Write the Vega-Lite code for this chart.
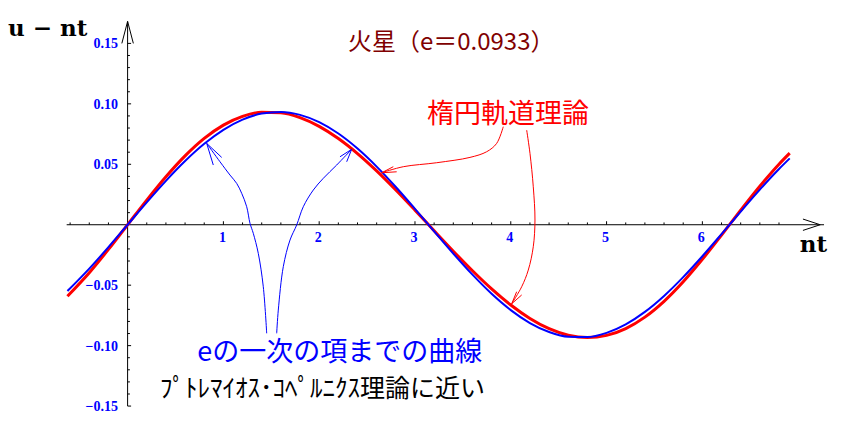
{
  "$schema": "https://vega.github.io/schema/vega-lite/v6.json",
  "width": 845,
  "height": 423,
  "autosize": {"type": "fit", "contains": "padding"},
  "padding": 0,
  "background": "white",
  "config": {"view": {"stroke": null}},
  "datasets": {
    "curve": [
      {"nt": -0.628, "u": -0.05918, "s": "ellipse"}, {"nt": -0.4, "u": -0.0397, "s": "ellipse"}, {"nt": -0.2, "u": -0.02038, "s": "ellipse"}, {"nt": 0, "u": 0, "s": "ellipse"},
      {"nt": 0.2, "u": 0.02038, "s": "ellipse"}, {"nt": 0.4, "u": 0.0397, "s": "ellipse"}, {"nt": 0.6, "u": 0.05698, "s": "ellipse"}, {"nt": 0.8, "u": 0.07141, "s": "ellipse"},
      {"nt": 1.0, "u": 0.08242, "s": "ellipse"}, {"nt": 1.2, "u": 0.08967, "s": "ellipse"}, {"nt": 1.4, "u": 0.09304, "s": "ellipse"}, {"nt": 1.6, "u": 0.0926, "s": "ellipse"},
      {"nt": 1.8, "u": 0.0886, "s": "ellipse"}, {"nt": 2.0, "u": 0.08137, "s": "ellipse"}, {"nt": 2.2, "u": 0.0713, "s": "ellipse"}, {"nt": 2.4, "u": 0.05886, "s": "ellipse"},
      {"nt": 2.6, "u": 0.0445, "s": "ellipse"}, {"nt": 2.8, "u": 0.02873, "s": "ellipse"}, {"nt": 3.0, "u": 0.01206, "s": "ellipse"}, {"nt": 3.2, "u": -0.00499, "s": "ellipse"},
      {"nt": 3.4, "u": -0.02188, "s": "ellipse"}, {"nt": 3.6, "u": -0.03809, "s": "ellipse"}, {"nt": 3.8, "u": -0.05309, "s": "ellipse"}, {"nt": 4.0, "u": -0.06639, "s": "ellipse"},
      {"nt": 4.2, "u": -0.0775, "s": "ellipse"}, {"nt": 4.4, "u": -0.08596, "s": "ellipse"}, {"nt": 4.6, "u": -0.09135, "s": "ellipse"}, {"nt": 4.8, "u": -0.09331, "s": "ellipse"},
      {"nt": 5.0, "u": -0.09154, "s": "ellipse"}, {"nt": 5.2, "u": -0.08591, "s": "ellipse"}, {"nt": 5.4, "u": -0.07643, "s": "ellipse"}, {"nt": 5.6, "u": -0.06336, "s": "ellipse"},
      {"nt": 5.8, "u": -0.04718, "s": "ellipse"}, {"nt": 6.0, "u": -0.02861, "s": "ellipse"}, {"nt": 6.2, "u": -0.00854, "s": "ellipse"}, {"nt": 6.4, "u": 0.01197, "s": "ellipse"},
      {"nt": 6.6, "u": 0.03186, "s": "ellipse"}, {"nt": 6.8, "u": 0.05009, "s": "ellipse"}, {"nt": 6.912, "u": 0.05924, "s": "ellipse"},
      {"nt": -0.628, "u": -0.05487, "s": "first"}, {"nt": -0.4, "u": -0.03633, "s": "first"}, {"nt": -0.2, "u": -0.01854, "s": "first"}, {"nt": 0, "u": 0, "s": "first"},
      {"nt": 0.2, "u": 0.01854, "s": "first"}, {"nt": 0.4, "u": 0.03633, "s": "first"}, {"nt": 0.6, "u": 0.05268, "s": "first"}, {"nt": 0.8, "u": 0.06693, "s": "first"},
      {"nt": 1.0, "u": 0.07851, "s": "first"}, {"nt": 1.2, "u": 0.08696, "s": "first"}, {"nt": 1.4, "u": 0.09194, "s": "first"}, {"nt": 1.6, "u": 0.09326, "s": "first"},
      {"nt": 1.8, "u": 0.09086, "s": "first"}, {"nt": 2.0, "u": 0.08484, "s": "first"}, {"nt": 2.2, "u": 0.07543, "s": "first"}, {"nt": 2.4, "u": 0.06302, "s": "first"},
      {"nt": 2.6, "u": 0.0481, "s": "first"}, {"nt": 2.8, "u": 0.03125, "s": "first"}, {"nt": 3.0, "u": 0.01317, "s": "first"}, {"nt": 3.2, "u": -0.00545, "s": "first"},
      {"nt": 3.4, "u": -0.02384, "s": "first"}, {"nt": 3.6, "u": -0.04129, "s": "first"}, {"nt": 3.8, "u": -0.05709, "s": "first"}, {"nt": 4.0, "u": -0.07061, "s": "first"},
      {"nt": 4.2, "u": -0.08132, "s": "first"}, {"nt": 4.4, "u": -0.08878, "s": "first"}, {"nt": 4.6, "u": -0.09271, "s": "first"}, {"nt": 4.8, "u": -0.09294, "s": "first"},
      {"nt": 5.0, "u": -0.08947, "s": "first"}, {"nt": 5.2, "u": -0.08243, "s": "first"}, {"nt": 5.4, "u": -0.0721, "s": "first"}, {"nt": 5.6, "u": -0.0589, "s": "first"},
      {"nt": 5.8, "u": -0.04335, "s": "first"}, {"nt": 6.0, "u": -0.02607, "s": "first"}, {"nt": 6.2, "u": -0.00775, "s": "first"}, {"nt": 6.4, "u": 0.01087, "s": "first"},
      {"nt": 6.6, "u": 0.02907, "s": "first"}, {"nt": 6.8, "u": 0.0461, "s": "first"}, {"nt": 6.912, "u": 0.05487, "s": "first"}
    ],
    "xticks": [
      {"v": -0.6, "major": false}, {"v": -0.4, "major": false}, {"v": -0.2, "major": false},
      {"v": 0.2, "major": false}, {"v": 0.4, "major": false}, {"v": 0.6, "major": false}, {"v": 0.8, "major": false}, {"v": 1, "major": true, "label": "1"},
      {"v": 1.2, "major": false}, {"v": 1.4, "major": false}, {"v": 1.6, "major": false}, {"v": 1.8, "major": false}, {"v": 2, "major": true, "label": "2"},
      {"v": 2.2, "major": false}, {"v": 2.4, "major": false}, {"v": 2.6, "major": false}, {"v": 2.8, "major": false}, {"v": 3, "major": true, "label": "3"},
      {"v": 3.2, "major": false}, {"v": 3.4, "major": false}, {"v": 3.6, "major": false}, {"v": 3.8, "major": false}, {"v": 4, "major": true, "label": "4"},
      {"v": 4.2, "major": false}, {"v": 4.4, "major": false}, {"v": 4.6, "major": false}, {"v": 4.8, "major": false}, {"v": 5, "major": true, "label": "5"},
      {"v": 5.2, "major": false}, {"v": 5.4, "major": false}, {"v": 5.6, "major": false}, {"v": 5.8, "major": false}, {"v": 6, "major": true, "label": "6"},
      {"v": 6.2, "major": false}, {"v": 6.4, "major": false}, {"v": 6.6, "major": false}, {"v": 6.8, "major": false}
    ],
    "yticks": [
      {"v": -0.15, "major": true, "label": "−0.15"}, {"v": -0.14, "major": false}, {"v": -0.13, "major": false}, {"v": -0.12, "major": false}, {"v": -0.11, "major": false},
      {"v": -0.10, "major": true, "label": "−0.10"}, {"v": -0.09, "major": false}, {"v": -0.08, "major": false}, {"v": -0.07, "major": false}, {"v": -0.06, "major": false},
      {"v": -0.05, "major": true, "label": "−0.05"}, {"v": -0.04, "major": false}, {"v": -0.03, "major": false}, {"v": -0.02, "major": false}, {"v": -0.01, "major": false},
      {"v": 0.01, "major": false}, {"v": 0.02, "major": false}, {"v": 0.03, "major": false}, {"v": 0.04, "major": false},
      {"v": 0.05, "major": true, "label": "0.05"}, {"v": 0.06, "major": false}, {"v": 0.07, "major": false}, {"v": 0.08, "major": false}, {"v": 0.09, "major": false},
      {"v": 0.10, "major": true, "label": "0.10"}, {"v": 0.11, "major": false}, {"v": 0.12, "major": false}, {"v": 0.13, "major": false}, {"v": 0.14, "major": false},
      {"v": 0.15, "major": true, "label": "0.15"}
    ],
    "segs": [
      {"k": "axis", "x": -0.636, "y": 0, "x2": 7.27, "y2": 0},
      {"k": "axis", "x": 0, "y": -0.15, "x2": 0, "y2": 0.1682},
      {"k": "axis", "x": 0, "y": 0.1682, "x2": -0.06, "y2": 0.150},
      {"k": "axis", "x": 0, "y": 0.1682, "x2": 0.06, "y2": 0.150},
      {"k": "axis", "x": 7.23, "y": 0, "x2": 7.05, "y2": 0.0047},
      {"k": "axis", "x": 7.23, "y": 0, "x2": 7.05, "y2": -0.0047},
      {"k": "blue", "x": 0.8257, "y": 0.0673, "x2": 0.8946, "y2": 0.0494},
      {"k": "blue", "x": 0.8257, "y": 0.0673, "x2": 0.9823, "y2": 0.0557},
      {"k": "blue", "x": 2.3392, "y": 0.0624, "x2": 2.2871, "y2": 0.0521},
      {"k": "blue", "x": 2.3392, "y": 0.0624, "x2": 2.2171, "y2": 0.0562},
      {"k": "red", "x": 2.6524, "y": 0.0430, "x2": 2.7735, "y2": 0.0480},
      {"k": "red", "x": 2.6524, "y": 0.0430, "x2": 2.8090, "y2": 0.0438},
      {"k": "red", "x": 4.0094, "y": -0.0654, "x2": 4.0616, "y2": -0.0554},
      {"k": "red", "x": 4.0094, "y": -0.0654, "x2": 4.1138, "y2": -0.0581}
    ],
    "leaders": [
      {"id": "b1", "c": "blue", "i": 0, "x": 1.452, "y": -0.0898}, {"id": "b1", "c": "blue", "i": 1, "x": 1.4165, "y": -0.0513},
      {"id": "b1", "c": "blue", "i": 2, "x": 1.3643, "y": -0.0237}, {"id": "b1", "c": "blue", "i": 3, "x": 1.3121, "y": -0.0071},
      {"id": "b1", "c": "blue", "i": 4, "x": 1.2777, "y": 0.0012}, {"id": "b1", "c": "blue", "i": 5, "x": 1.2432, "y": 0.0149},
      {"id": "b1", "c": "blue", "i": 6, "x": 1.191, "y": 0.026}, {"id": "b1", "c": "blue", "i": 7, "x": 1.1388, "y": 0.0342},
      {"id": "b1", "c": "blue", "i": 8, "x": 1.0689, "y": 0.0411}, {"id": "b1", "c": "blue", "i": 9, "x": 0.9645, "y": 0.0521},
      {"id": "b1", "c": "blue", "i": 10, "x": 0.8257, "y": 0.0673},
      {"id": "b2", "c": "blue", "i": 0, "x": 1.5564, "y": -0.0898}, {"id": "b2", "c": "blue", "i": 1, "x": 1.5731, "y": -0.0706},
      {"id": "b2", "c": "blue", "i": 2, "x": 1.6253, "y": -0.0347}, {"id": "b2", "c": "blue", "i": 3, "x": 1.6952, "y": -0.0127},
      {"id": "b2", "c": "blue", "i": 4, "x": 1.7651, "y": -0.0002}, {"id": "b2", "c": "blue", "i": 5, "x": 1.834, "y": 0.0149},
      {"id": "b2", "c": "blue", "i": 6, "x": 1.9384, "y": 0.0287}, {"id": "b2", "c": "blue", "i": 7, "x": 2.0428, "y": 0.0384},
      {"id": "b2", "c": "blue", "i": 8, "x": 2.1827, "y": 0.0494}, {"id": "b2", "c": "blue", "i": 9, "x": 2.3392, "y": 0.0624},
      {"id": "r1", "c": "red", "i": 0, "x": 3.9217, "y": 0.0811}, {"id": "r1", "c": "red", "i": 1, "x": 3.8528, "y": 0.0673},
      {"id": "r1", "c": "red", "i": 2, "x": 3.7484, "y": 0.0604}, {"id": "r1", "c": "red", "i": 3, "x": 3.5741, "y": 0.0557},
      {"id": "r1", "c": "red", "i": 4, "x": 3.2265, "y": 0.0513}, {"id": "r1", "c": "red", "i": 5, "x": 2.8779, "y": 0.048},
      {"id": "r1", "c": "red", "i": 6, "x": 2.6524, "y": 0.043},
      {"id": "r2", "c": "red", "i": 0, "x": 4.166, "y": 0.0783}, {"id": "r2", "c": "red", "i": 1, "x": 4.2004, "y": 0.0591},
      {"id": "r2", "c": "red", "i": 2, "x": 4.2349, "y": 0.0314}, {"id": "r2", "c": "red", "i": 3, "x": 4.2526, "y": 0.0039},
      {"id": "r2", "c": "red", "i": 4, "x": 4.2349, "y": -0.0182}, {"id": "r2", "c": "red", "i": 5, "x": 4.1827, "y": -0.0375},
      {"id": "r2", "c": "red", "i": 6, "x": 4.1138, "y": -0.0513}, {"id": "r2", "c": "red", "i": 7, "x": 4.0094, "y": -0.0654}
    ],
    "texts": [
      {"id": "title", "t": "火星（e＝0.0933）", "x": 2.30, "y": 0.1503},
      {"id": "ellipse", "t": "楕円軌道理論", "x": 3.125, "y": 0.0911},
      {"id": "first", "t": "eの一次の項までの曲線", "x": 0.7265, "y": -0.1061},
      {"id": "note", "t": "ﾌﾟﾄﾚﾏｲｵｽ･ｺﾍﾟﾙﾆｸｽ理論に近い", "x": 0.339, "y": -0.1359},
      {"id": "ytitle", "t": "u − nt", "x": -1.249, "y": 0.1561},
      {"id": "xtitle", "t": "nt", "x": 7.16, "y": -0.0226}
    ]
  },
  "encoding": {
    "x": {"type": "quantitative", "scale": {"domain": [-1.332, 7.489], "nice": false, "zero": false}, "axis": null},
    "y": {"type": "quantitative", "scale": {"domain": [-0.164, 0.1859], "nice": false, "zero": false}, "axis": null}
  },
  "layer": [
    {
      "data": {"name": "segs"},
      "transform": [{"filter": "datum.k === 'axis'"}],
      "mark": {"type": "rule", "color": "black", "strokeWidth": 1},
      "encoding": {"x": {"field": "x"}, "y": {"field": "y"}, "x2": {"field": "x2"}, "y2": {"field": "y2"}}
    },
    {
      "data": {"name": "xticks"},
      "transform": [{"filter": "datum.major"}],
      "mark": {"type": "rule", "color": "black", "strokeWidth": 1, "y2Offset": -3.5},
      "encoding": {"x": {"field": "v"}, "y": {"datum": 0}, "y2": {"datum": 0}}
    },
    {
      "data": {"name": "xticks"},
      "transform": [{"filter": "!datum.major"}],
      "mark": {"type": "rule", "color": "black", "strokeWidth": 1, "y2Offset": -2.3},
      "encoding": {"x": {"field": "v"}, "y": {"datum": 0}, "y2": {"datum": 0}}
    },
    {
      "data": {"name": "yticks"},
      "transform": [{"filter": "datum.major"}],
      "mark": {"type": "rule", "color": "black", "strokeWidth": 1, "x2Offset": 3.5},
      "encoding": {"y": {"field": "v"}, "x": {"datum": 0}, "x2": {"datum": 0}}
    },
    {
      "data": {"name": "yticks"},
      "transform": [{"filter": "!datum.major"}],
      "mark": {"type": "rule", "color": "black", "strokeWidth": 1, "x2Offset": 2.3},
      "encoding": {"y": {"field": "v"}, "x": {"datum": 0}, "x2": {"datum": 0}}
    },
    {
      "data": {"name": "xticks"},
      "transform": [{"filter": "datum.major"}],
      "mark": {"type": "text", "color": "#0000FF", "font": "Liberation Serif", "fontWeight": "bold", "fontSize": 14, "align": "center", "baseline": "middle", "dy": 13.5, "dx": -1},
      "encoding": {"x": {"field": "v"}, "y": {"datum": 0}, "text": {"field": "label"}}
    },
    {
      "data": {"name": "yticks"},
      "transform": [{"filter": "datum.major"}],
      "mark": {"type": "text", "color": "#0000FF", "font": "Liberation Serif", "fontWeight": "bold", "fontSize": 14, "align": "right", "baseline": "middle", "dx": -9.5, "dy": 1},
      "encoding": {"y": {"field": "v"}, "x": {"datum": 0}, "text": {"field": "label"}}
    },
    {
      "data": {"name": "curve"},
      "transform": [{"filter": "datum.s === 'ellipse'"}],
      "mark": {"type": "line", "color": "#FF0000", "strokeWidth": 3, "interpolate": "monotone"},
      "encoding": {"x": {"field": "nt"}, "y": {"field": "u"}}
    },
    {
      "data": {"name": "curve"},
      "transform": [{"filter": "datum.s === 'first'"}],
      "mark": {"type": "line", "color": "#0000FF", "strokeWidth": 2, "interpolate": "monotone"},
      "encoding": {"x": {"field": "nt"}, "y": {"field": "u"}}
    },
    {
      "data": {"name": "leaders"},
      "transform": [{"filter": "datum.c === 'blue'"}],
      "mark": {"type": "line", "color": "#0000FF", "strokeWidth": 1, "interpolate": "catmull-rom"},
      "encoding": {"x": {"field": "x"}, "y": {"field": "y"}, "detail": {"field": "id"}, "order": {"field": "i"}}
    },
    {
      "data": {"name": "leaders"},
      "transform": [{"filter": "datum.c === 'red'"}],
      "mark": {"type": "line", "color": "#FF0000", "strokeWidth": 1, "interpolate": "catmull-rom"},
      "encoding": {"x": {"field": "x"}, "y": {"field": "y"}, "detail": {"field": "id"}, "order": {"field": "i"}}
    },
    {
      "data": {"name": "segs"},
      "transform": [{"filter": "datum.k === 'blue'"}],
      "mark": {"type": "rule", "color": "#0000FF", "strokeWidth": 1},
      "encoding": {"x": {"field": "x"}, "y": {"field": "y"}, "x2": {"field": "x2"}, "y2": {"field": "y2"}}
    },
    {
      "data": {"name": "segs"},
      "transform": [{"filter": "datum.k === 'red'"}],
      "mark": {"type": "rule", "color": "#FF0000", "strokeWidth": 1},
      "encoding": {"x": {"field": "x"}, "y": {"field": "y"}, "x2": {"field": "x2"}, "y2": {"field": "y2"}}
    },
    {
      "data": {"name": "texts"},
      "transform": [{"filter": "datum.id === 'title'"}],
      "mark": {"type": "text", "color": "#800000", "font": "Noto Sans CJK JP", "fontSize": 24, "align": "left", "baseline": "middle"},
      "encoding": {"x": {"field": "x"}, "y": {"field": "y"}, "text": {"field": "t"}}
    },
    {
      "data": {"name": "texts"},
      "transform": [{"filter": "datum.id === 'ellipse'"}],
      "mark": {"type": "text", "color": "#FF0000", "font": "Noto Sans CJK JP", "fontSize": 27, "align": "left", "baseline": "middle"},
      "encoding": {"x": {"field": "x"}, "y": {"field": "y"}, "text": {"field": "t"}}
    },
    {
      "data": {"name": "texts"},
      "transform": [{"filter": "datum.id === 'first'"}],
      "mark": {"type": "text", "color": "#0000FF", "font": "Noto Sans CJK JP", "fontSize": 27, "align": "left", "baseline": "middle"},
      "encoding": {"x": {"field": "x"}, "y": {"field": "y"}, "text": {"field": "t"}}
    },
    {
      "data": {"name": "texts"},
      "transform": [{"filter": "datum.id === 'note'"}],
      "mark": {"type": "text", "color": "black", "font": "Noto Sans CJK JP", "fontSize": 25, "align": "left", "baseline": "middle"},
      "encoding": {"x": {"field": "x"}, "y": {"field": "y"}, "text": {"field": "t"}}
    },
    {
      "data": {"name": "texts"},
      "transform": [{"filter": "datum.id === 'ytitle'"}],
      "mark": {"type": "text", "color": "black", "font": "DejaVu Serif", "fontWeight": "bold", "fontSize": 23, "align": "left", "baseline": "alphabetic"},
      "encoding": {"x": {"field": "x"}, "y": {"field": "y"}, "text": {"field": "t"}}
    },
    {
      "data": {"name": "texts"},
      "transform": [{"filter": "datum.id === 'xtitle'"}],
      "mark": {"type": "text", "color": "black", "font": "DejaVu Serif", "fontWeight": "bold", "fontSize": 23, "align": "center", "baseline": "alphabetic"},
      "encoding": {"x": {"field": "x"}, "y": {"field": "y"}, "text": {"field": "t"}}
    }
  ]
}
